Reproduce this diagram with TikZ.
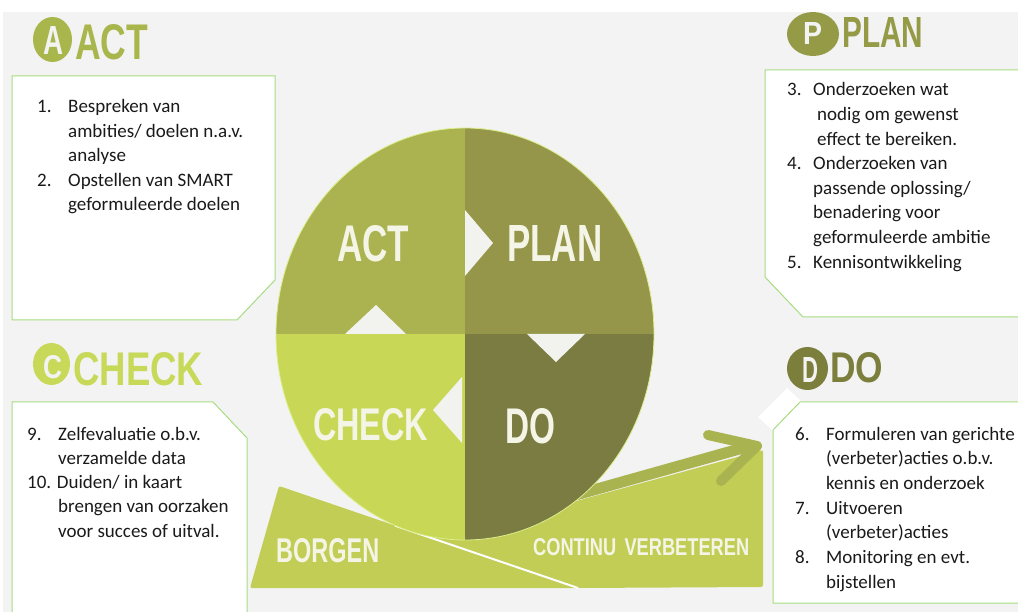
\documentclass[tikz,border=0pt]{standalone}
\usepackage{fontspec}
\setmainfont{Carlito}
\newfontfamily\cond{Liberation Sans}
\usepackage{graphicx}
\definecolor{bggray}{HTML}{F3F3F3}
\definecolor{actc}{HTML}{ABB351}
\definecolor{planc}{HTML}{959649}
\definecolor{checkc}{HTML}{C8D856}
\definecolor{doc}{HTML}{7A7C42}
\definecolor{bandc}{HTML}{C2CD55}
\definecolor{arrowc}{HTML}{A9B450}
\definecolor{tric}{HTML}{F2F3EE}
\definecolor{boxline}{HTML}{A6DD80}
\definecolor{rimc}{HTML}{DCEE8C}
\definecolor{hact}{HTML}{A9B64B}
\definecolor{hplan}{HTML}{959A46}
\definecolor{hcheck}{HTML}{C8D95A}
\definecolor{hdo}{HTML}{7C7E3C}
\definecolor{labc}{HTML}{F4F5E6}
\definecolor{txtc}{HTML}{1A1A1A}
\newcommand{\fitlab}[3]{\resizebox{#1pt}{#2pt}{\cond\bfseries #3}}
\tikzset{
  lab/.style={inner sep=0pt, anchor=base west, text=labc},
  listtext/.style={inner sep=0pt, anchor=base west, text=txtc},
  textbox/.style={draw=boxline, fill=white, line width=1pt},
}
\begin{document}
\begin{tikzpicture}[x=1pt,y=-1pt]
\useasboundingbox (0,0) rectangle (1018,612);
\fill[white] (0,0) rectangle (1018,612);
\fill[bggray] (3,12) rectangle (1018,612);

% text boxes
\draw[textbox] (12,76) -- (275,76) -- (275,280) -- (237,320) -- (12,320) -- cycle;
\draw[textbox] (765,70) -- (1030,70) -- (1030,317) -- (803,317) -- (765,277) -- cycle;
\draw[textbox] (12,402) -- (213,402) -- (247,438) -- (247,630) -- (12,630) -- cycle;
\fill[white] (758,417) -- (787,388) -- (802,402) -- (773,431) -- cycle;
\draw[textbox] (800,402) -- (1030,402) -- (1030,603) -- (773,603) -- (773,430) -- cycle;

% bottom band
\fill[bandc, rounded corners=2pt] (405,529.3) -- (470,533) -- (580,500) -- (763,450) -- (763,587) -- (578,588) -- cycle;
\draw[arrowc, line width=11pt] (565,498) -- (750,446);
\draw[arrowc, line width=10pt, line cap=round, line join=round] (708,435) -- (757,446) -- (721,481);
\fill[bandc, rounded corners=2pt] (279,486) -- (578,588) -- (250,588) -- cycle;
\draw[white, line width=2pt] (395,525.6) -- (578,588);

% PDCA circle
\begin{scope}
\clip (465,334) ellipse [x radius=189, y radius=206];
\fill[actc] (270,120) rectangle (465,334);
\fill[planc] (465,120) rectangle (660,334);
\fill[checkc] (270,334) rectangle (465,545);
\fill[doc] (465,334) rectangle (660,545);
\end{scope}
\draw[rimc, line width=0.8pt] (465,334) ellipse [x radius=189, y radius=206];

\fill[tric] (465,210) -- (493,243) -- (465,276) -- cycle;
\fill[tric] (345,334) -- (376,305) -- (406,334) -- cycle;
\fill[tric] (527,334) -- (556,362) -- (585,334) -- cycle;
\fill[tric] (462,377) -- (433,410) -- (462,443) -- cycle;

\node[lab] (cact) at (337,262) {\fitlab{72}{36}{ACT}};
\node[lab] (cplan) at (507,262) {\fitlab{95}{36}{PLAN}};
\node[lab] (ccheck) at (313,440) {\fitlab{115}{32}{CHECK}};
\node[lab] (cdo) at (505,443) {\fitlab{50}{35}{DO}};
\node[lab] (borgen) at (276,562) {\fitlab{103}{24}{BORGEN}};
\node[lab] (contv) at (533,555) {\fitlab{216}{17}{CONTINU\hspace{0.45em}VERBETEREN}};

% headings
\fill[hact] (52.5,39.5) ellipse [x radius=19.5, y radius=22.5];
\node[lab, text=bggray] (hA) at (43,55) {\fitlab{20}{28}{A}};
\node[lab, text=hact] (hACT) at (75,60) {\fitlab{73}{35}{ACT}};

\fill[hplan] (813,34) ellipse [x radius=26, y radius=22];
\node[lab, text=bggray] (hP) at (803,45) {\fitlab{19}{22}{P}};
\node[lab, text=hplan] (hPLAN) at (842,48) {\fitlab{81}{30}{PLAN}};

\fill[hcheck] (51.5,364) ellipse [x radius=18.5, y radius=21];
\node[lab, text=bggray] (hC) at (43,378) {\fitlab{19}{23}{C}};
\node[lab, text=hcheck] (hCHECK) at (73,385) {\fitlab{130}{33}{CHECK}};

\fill[hdo] (807.5,368.5) ellipse [x radius=20.5, y radius=21.5];
\node[lab, text=bggray] (hD) at (802,382) {\fitlab{16}{25}{D}};
\node[lab, text=hdo] (hDO) at (830,383) {\fitlab{53}{30}{DO}};

% list texts
\node[listtext] (actlist) at (37,113) {\fontsize{19}{24.5}\selectfont
\begin{tabular}[t]{@{}p{31pt}@{}l@{}}
1. & Bespreken van\\
   & ambities/ doelen n.a.v.\\
   & analyse\\
2. & Opstellen van SMART\\
   & geformuleerde doelen
\end{tabular}};

\node[listtext] (planlist) at (787,96) {\fontsize{19}{24.6}\selectfont
\begin{tabular}[t]{@{}p{26pt}@{}l@{}}
3. & Onderzoeken wat\\
   & \hspace{4pt}nodig om gewenst\\
   & \hspace{4pt}effect te bereiken.\\
4. & Onderzoeken van\\
   & passende oplossing/\\
   & benadering voor\\
   & geformuleerde ambitie\\
5. & Kennisontwikkeling
\end{tabular}};

\node[listtext] (checklist) at (27,440) {\fontsize{19}{24.3}\selectfont
\begin{tabular}[t]{@{}p{31pt}@{}l@{}}
9. & Zelfevaluatie o.b.v.\\
   & verzamelde data\\
\multicolumn{2}{@{}l@{}}{10. Duiden/ in kaart}\\
   & brengen van oorzaken\\
   & voor succes of uitval.
\end{tabular}};

\node[listtext] (dolist) at (795,440) {\fontsize{19}{24.7}\selectfont
\begin{tabular}[t]{@{}p{31pt}@{}l@{}}
6. & Formuleren van gerichte\\
   & (verbeter)acties o.b.v.\\
   & kennis en onderzoek\\
7. & Uitvoeren\\
   & (verbeter)acties\\
8. & Monitoring en evt.\\
   & bijstellen
\end{tabular}};
\end{tikzpicture}
\end{document}
